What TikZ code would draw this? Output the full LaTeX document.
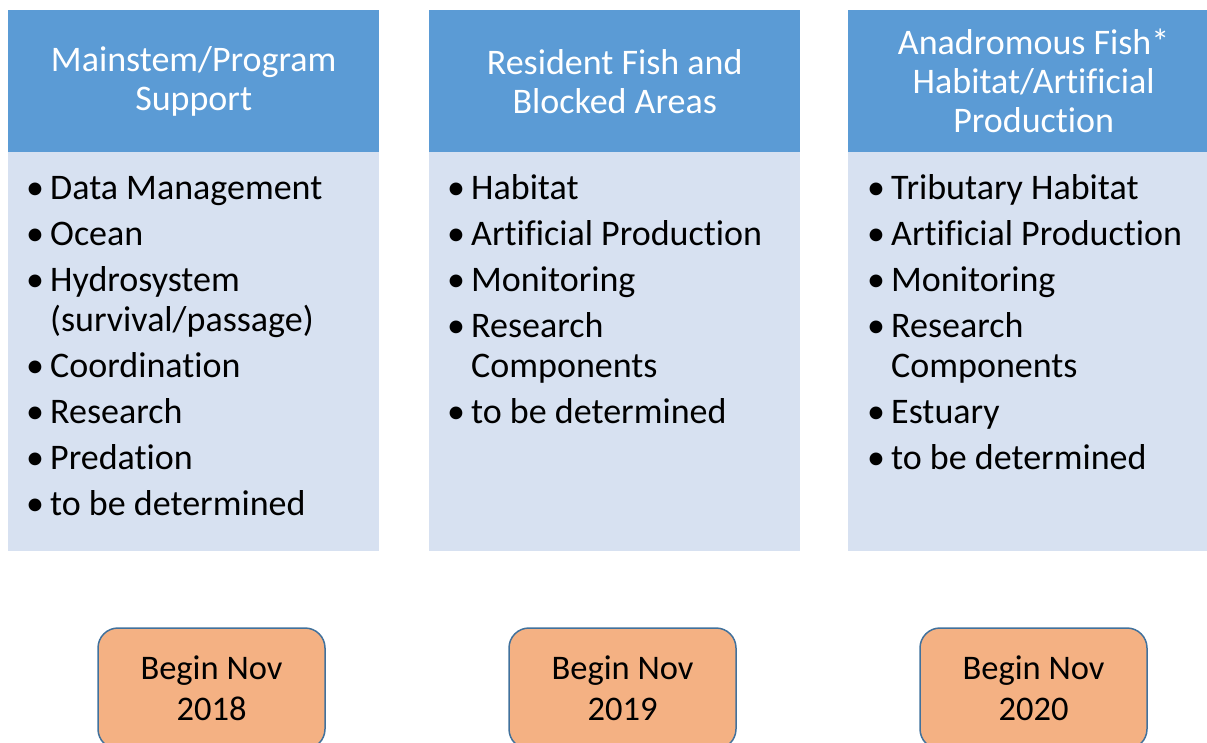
\documentclass[tikz,border=0pt]{standalone}
\usepackage{fontspec}
\setmainfont{Carlito}[Ligatures={TeX,NoCommon}]
\usepackage{tikz}

\definecolor{headblue}{HTML}{5B9BD5}
\definecolor{bodyblue}{HTML}{D7E1F1}
\definecolor{startorange}{HTML}{F4B183}
\definecolor{startedge}{HTML}{41719C}

\newcommand{\blt}{\makebox[24pt][l]{•}}

\begin{document}
\begin{tikzpicture}[x=1pt,y=-1pt,
  headbox/.style={rectangle,fill=headblue,text=white,anchor=north west,
    minimum width=371pt,minimum height=142pt,inner sep=0pt,align=center,
    font=\fontsize{36}{39}\selectfont},
  bodybox/.style={rectangle,fill=bodyblue,anchor=north west,
    minimum width=371pt,minimum height=399pt,inner sep=0pt},
  itemlist/.style={anchor=base west,inner sep=0pt,align=left,
    font=\fontsize{36}{40}\selectfont},
  startbox/.style={rectangle,rounded corners=20pt,fill=startorange,
    draw=startedge,line width=1.5pt,minimum width=227pt,minimum height=121pt,
    align=center,font=\fontsize{34.5}{41}\selectfont}]

\useasboundingbox (0,0) rectangle (1207,742);
\clip (0,0) rectangle (1207,742);

% column headings
\node[headbox] (head1) at (8,10) {Mainstem/Program\\Support};
\node[headbox] (head2) at (429,10) {Resident Fish and\\Blocked Areas};
\node[headbox] (head3) at (848,10) {Anadromous Fish*\\Habitat/Artificial\\Production};

% lists
\node[bodybox] (body1) at (8,152) {};
\node[bodybox] (body2) at (429,152) {};
\node[bodybox] (body3) at (848,152) {};

\node[itemlist] (list1) at (26,199) {\begin{tabular}[t]{@{}l@{}l@{}}
\blt & Data Management\\[6pt]
\blt & Ocean\\[6pt]
\blt & Hydrosystem\\
     & (survival/passage)\\[6pt]
\blt & Coordination\\[6pt]
\blt & Research\\[6pt]
\blt & Predation\\[6pt]
\blt & to be determined
\end{tabular}};

\node[itemlist] (list2) at (447,199) {\begin{tabular}[t]{@{}l@{}l@{}}
\blt & Habitat\\[6pt]
\blt & Artificial Production\\[6pt]
\blt & Monitoring\\[6pt]
\blt & Research\\
     & Components\\[6pt]
\blt & to be determined
\end{tabular}};

\node[itemlist] (list3) at (867,199) {\begin{tabular}[t]{@{}l@{}l@{}}
\blt & Tributary Habitat\\[6pt]
\blt & Artificial Production\\[6pt]
\blt & Monitoring\\[6pt]
\blt & Research\\
     & Components\\[6pt]
\blt & Estuary\\[6pt]
\blt & to be determined
\end{tabular}};

% start dates
\node[startbox] (begin1) at (211.5,688.5) {Begin Nov\\2018};
\node[startbox] (begin2) at (622.5,688.5) {Begin Nov\\2019};
\node[startbox] (begin3) at (1033.5,688.5) {Begin Nov\\2020};

\end{tikzpicture}
\end{document}
